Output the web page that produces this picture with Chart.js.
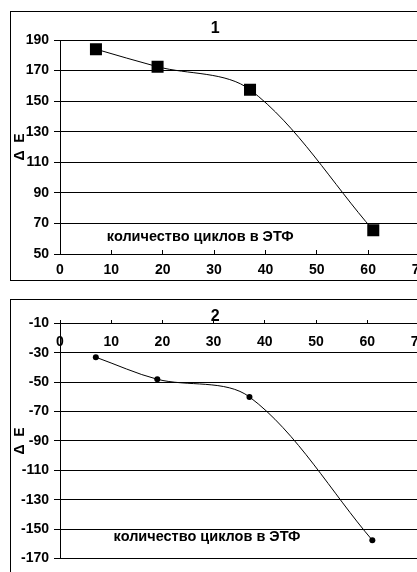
<!DOCTYPE html>
<html>
<head>
<meta charset="utf-8">
<script src="https://cdn.jsdelivr.net/npm/chart.js@4/dist/chart.umd.min.js"></script>
<style>
  html, body { margin: 0; padding: 0; background: #fff; overflow: hidden; width: 417px; height: 572px; }
  .box { position: absolute; left: 10px; width: 440px; border: 1px solid #000; background: #fff; }
  #box1 { top: 11px; height: 268px; }
  #box2 { top: 299px; height: 290px; }
  canvas { display: block; }
</style>
</head>
<body>
<div class="box" id="box1"><canvas id="c1" width="430" height="267"></canvas></div>
<div class="box" id="box2"><canvas id="c2" width="430" height="272"></canvas></div>
<script>
const cycles = [7, 19, 37, 61];
const deltaE1 = [184, 172.5, 157.5, 65.5];
const deltaE2 = [-33, -48, -60, -157.5];
const xLimits = [0, 70];
const yLimits1 = [50, 190];
const yLimits2 = [-170, -10];
const noteText = 'количество циклов в ЭТФ';

const FONT = '"Liberation Sans", Arial, sans-serif';

// draws the caption inside the plot, anchored at data coordinates
const notePlugin = {
  id: 'note',
  afterDatasetsDraw(chart, args, opts) {
    const { ctx, scales } = chart;
    ctx.save();
    ctx.font = 'bold 14.5px ' + FONT;
    ctx.fillStyle = '#000';
    ctx.textAlign = 'center';
    ctx.textBaseline = 'middle';
    ctx.fillText(noteText, scales.x.getPixelForValue(opts.x), scales.y.getPixelForValue(opts.y));
    ctx.restore();
  }
};

function makeChart(canvas, cfg) {
  return new Chart(canvas, {
    type: 'line',
    data: {
      datasets: [{
        data: cycles.map((c, i) => ({ x: c, y: cfg.values[i] })),
        borderColor: '#000',
        borderWidth: 1,
        backgroundColor: '#000',
        pointStyle: cfg.pointStyle,
        pointRadius: cfg.pointRadius,
        pointBorderWidth: 0,
        tension: 0.33,
        fill: false
      }]
    },
    options: {
      responsive: false,
      animation: false,
      layout: { padding: cfg.padding },
      plugins: {
        legend: { display: false },
        tooltip: { enabled: false },
        title: {
          display: true,
          text: cfg.title,
          color: '#000',
          font: { family: FONT, size: 16, weight: 'bold', lineHeight: cfg.titleLine },
          padding: cfg.titlePad
        },
        note: cfg.note
      },
      scales: {
        x: {
          type: 'linear',
          position: cfg.xPos,
          min: xLimits[0],
          max: xLimits[1],
          afterFit: s => { s.height = cfg.xHeight; },
          ticks: {
            stepSize: 10,
            color: '#000',
            padding: cfg.xPad,
            maxRotation: 0,
            font: { family: FONT, size: 14, weight: 'bold' }
          },
          grid: { drawOnChartArea: false, tickLength: -4, color: '#000' },
          border: { display: true, color: '#000', width: 1 }
        },
        y: {
          min: cfg.yLimits[0],
          max: cfg.yLimits[1],
          afterFit: s => { s.width = 49; },
          ticks: {
            stepSize: 20,
            color: '#000',
            padding: 5,
            font: { family: FONT, size: 14, weight: 'bold' }
          },
          grid: { color: '#000', tickLength: 6 },
          border: { display: true, color: '#000', width: 1 },
          title: {
            display: true,
            text: 'Δ  E',
            color: '#000',
            padding: 1,
            font: { family: FONT, size: 14, weight: 'bold' }
          }
        }
      }
    },
    plugins: [notePlugin]
  });
}

makeChart(document.getElementById('c1'), {
  values: deltaE1,
  yLimits: yLimits1,
  title: '1',
  titleLine: 1.2,
  titlePad: { top: 6.7, bottom: 2.1 },
  padding: { top: 0, right: 21.5, bottom: 0, left: 0 },
  xPos: 'bottom',
  xHeight: 25,
  xPad: 11.3,
  pointStyle: 'rect',
  pointRadius: 8.5,
  note: { x: 27.3, y: 61.2 }
});

makeChart(document.getElementById('c2'), {
  values: deltaE2,
  yLimits: yLimits2,
  title: '2',
  titleLine: 0.8,
  titlePad: { top: 10.6, bottom: 0 },
  padding: { top: 0, right: 21.5, bottom: 10.3, left: 0 },
  xPos: { y: -10 },
  xHeight: 0,
  xPad: 14.8,
  pointStyle: 'circle',
  pointRadius: 3,
  note: { x: 28.7, y: -155 }
});
</script>
</body>
</html>
